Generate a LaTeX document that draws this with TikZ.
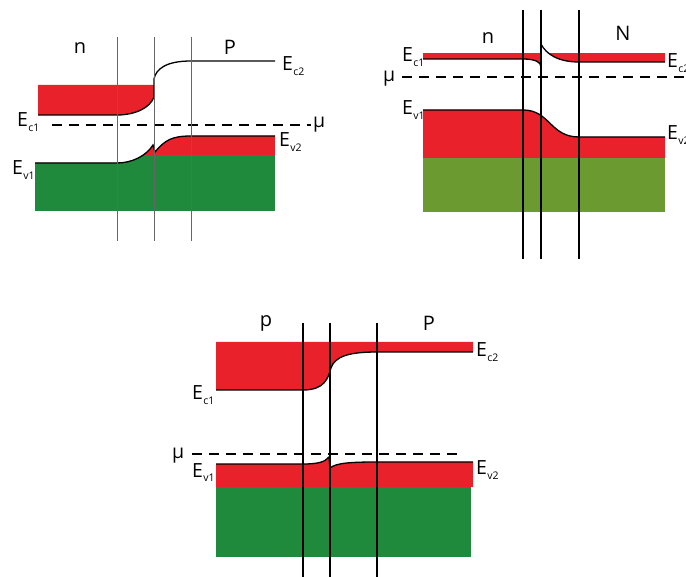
\documentclass[tikz,border=0pt]{standalone}
\usepackage{fontspec}
\setmainfont{Open Sans}
\definecolor{bred}{HTML}{E8212A}
\definecolor{bgreen}{HTML}{1F8A3C}
\definecolor{bolive}{HTML}{6B9A30}
\newcommand{\EEsub}[1]{E\kern0.3pt\raisebox{-5pt}{\fontsize{10.5}{10.5}\selectfont #1}}
\begin{document}
\begin{tikzpicture}[x=1pt,y=-1pt,
  band/.style={line width=1.3pt, black},
  sepline/.style={line width=1.2pt, black},
  sepgray/.style={line width=0.9pt, black!60},
  muline/.style={line width=1.3pt, dash pattern=on 10pt off 7pt},
  reg/.style={inner sep=0pt, font=\fontsize{20}{20}\selectfont},
  elab/.style={inner sep=0pt, anchor=base west, font=\fontsize{19.5}{19.5}\selectfont}]
\useasboundingbox (0,0) rectangle (686,577);
\fill[white] (0,0) rectangle (686,577);

% ---------------- Panel 1 (n / P) ----------------
\fill[bred] (38,85) -- (154,85) -- (154,97) .. controls (150,108) and (135,115) .. (117,115) -- (38,115) -- cycle;
\begin{scope}
\clip (35,163) -- (117,163) .. controls (132,163) and (146,156) .. (153,145) -- (155,152) .. controls (165,140) and (172,136) .. (191,136) -- (275,136) -- (275,211) -- (35,211) -- cycle;
\fill[bred] (35,130) rectangle (275,211);
\fill[bgreen] (35,155) rectangle (275,211);
\end{scope}
\draw[band] (38,115) -- (117,115) .. controls (135,115) and (150,108) .. (154,97) -- (154,79) .. controls (156,69) and (166,61) .. (191,61) -- (275,61);
\draw[band] (35,163) -- (117,163) .. controls (132,163) and (146,156) .. (153,145) -- (155,152) .. controls (165,140) and (172,136) .. (191,136) -- (275,136);
\draw[muline] (52,125) -- (311,125);
\draw[sepgray] (117,37) -- (117,241);
\draw[sepgray] (154,37) -- (154,241);
\draw[sepgray] (191,37) -- (191,241);
\node[reg] (n1) at (80,48) {n};
\node[reg] (P1) at (230,47) {P};
\node[elab] (ec2a) at (282,71) {\EEsub{c2}};
\node[elab] (ec1a) at (17,127) {\EEsub{c1}};
\node[elab] (ev1a) at (12,175) {\EEsub{v1}};
\node[elab] (ev2a) at (279,147) {\EEsub{v2}};
\node[elab] (mua) at (313,128) {μ};

% ---------------- Panel 2 (n / N) ----------------
\begin{scope}
\clip (423,59) -- (523,59) .. controls (535,59) and (541,62) .. (541,67) -- (541,44) .. controls (546,54) and (558,62) .. (579,62) -- (665,62) -- (665,0) -- (423,0) -- cycle;
\fill[bred] (423,53) rectangle (665,75);
\end{scope}
\fill[bred] (423,110) -- (523,110) .. controls (550,110) and (550,137) .. (579,137) -- (665,137) -- (665,158) -- (423,158) -- cycle;
\fill[bolive] (423,158) rectangle (665,212);
\draw[band] (423,59) -- (523,59) .. controls (535,59) and (541,62) .. (541,67) -- (541,44) .. controls (546,54) and (558,62) .. (579,62) -- (665,62);
\draw[band] (423,110) -- (523,110) .. controls (550,110) and (550,137) .. (579,137) -- (665,137);
\draw[muline] (402,77) -- (686,77);
\draw[sepline] (523,10) -- (523,259);
\draw[sepline] (541,10) -- (541,259);
\draw[sepline] (579,10) -- (579,259);
\node[reg] (n2) at (488,38) {n};
\node[reg] (N2) at (623,33) {N};
\node[elab] (ec1b) at (402,62) {\EEsub{c1}};
\node[elab] (ec2b) at (667,68) {\EEsub{c2}};
\node[elab] (ev1b) at (402,115) {\EEsub{v1}};
\node[elab] (ev2b) at (667,140) {\EEsub{v2}};
\node[elab] (mub) at (383,82) {μ};

% ---------------- Panel 3 (p / P) ----------------
\fill[bred] (216,342) -- (473,342) -- (473,352) -- (377,352) .. controls (350,352) and (335,356) .. (331,368) .. controls (328,378) and (325,390) .. (303,390) -- (216,390) -- cycle;
\fill[bred] (216,464) -- (303,464) .. controls (318,464) and (325,462) .. (329,457) -- (330,468) .. controls (336,463) and (350,462) .. (377,462) -- (473,462) -- (473,487) -- (216,487) -- cycle;
\fill[bgreen] (216,487) rectangle (471,557);
\draw[band] (216,390) -- (303,390) .. controls (325,390) and (328,378) .. (331,368) .. controls (335,356) and (350,352) .. (377,352) -- (473,352);
\draw[band] (216,464) -- (303,464) .. controls (318,464) and (325,462) .. (329,457) -- (330,468) .. controls (336,463) and (350,462) .. (377,462) -- (473,462);
\draw[muline] (192,454) -- (457,454);
\draw[sepline] (303,323) -- (303,577);
\draw[sepline] (330,323) -- (330,577);
\draw[sepline] (377,323) -- (377,577);
\node[reg] (p3) at (266,323) {p};
\node[reg] (P3) at (429,323) {P};
\node[elab] (ec1c) at (192,400) {\EEsub{c1}};
\node[elab] (ec2c) at (476,357) {\EEsub{c2}};
\node[elab] (ev1c) at (192,477) {\EEsub{v1}};
\node[elab] (ev2c) at (476,475) {\EEsub{v2}};
\node[elab] (muc) at (172,458) {μ};
\end{tikzpicture}
\end{document}
